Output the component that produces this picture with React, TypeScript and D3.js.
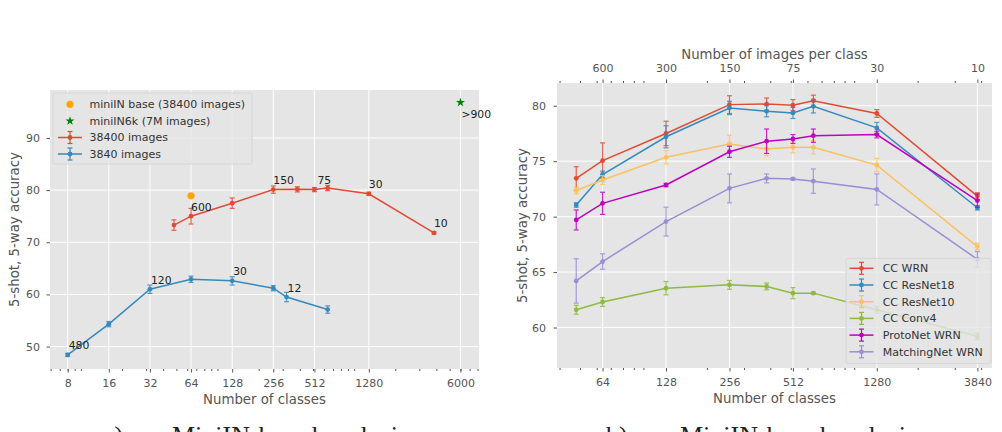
import { useEffect, useRef } from 'react';
import * as d3 from 'd3';

const FONT = "'DejaVu Sans', sans-serif";
const BG = '#E5E5E5';
const TICK = '#555555';

// ---------- panel a: miniIN based, varying number of classes ----------
const classes38400 = [48, 64, 128, 256, 384, 512, 640, 1280, 3840];
const acc38400 = [73.3, 75.0, 77.5, 80.1, 80.15, 80.1, 80.4, 79.3, 71.8];
const err38400 = [1.0, 1.5, 1.0, 0.7, 0.5, 0.4, 0.5, 0.3, 0.2];
const labels38400 = ['', '600', '', '150', '', '75', '', '30', '10'];

const classes3840 = [8, 16, 32, 64, 128, 256, 320, 640];
const acc3840 = [48.4, 54.3, 61.0, 62.9, 62.6, 61.2, 59.5, 57.1];
const err3840 = [0.3, 0.5, 0.8, 0.6, 0.8, 0.5, 0.9, 0.7];
const labels3840 = ['480', '', '120', '', '30', '', '12', ''];

const baseClasses = 64;
const baseAcc = 78.9;
const bigClasses = 6000;
const bigAcc = 96.8;
const bigLabel = '>900';

const leftTicksX = [8, 16, 32, 64, 128, 256, 512, 1280, 6000];
const leftTicksY = [50, 60, 70, 80, 90];

// ---------- panel b: different backbones / methods ----------
const rightClasses = [48, 64, 128, 256, 384, 512, 640, 1280, 3840];
const imagesTotal = 38400;

const ccWrn = [73.45, 75.05, 77.5, 80.1, 80.15, 80.05, 80.45, 79.3, 71.85];
const ccWrnErr = [1.05, 1.6, 1.1, 0.8, 0.55, 0.5, 0.5, 0.35, 0.3];
const ccRes18 = [71.05, 73.8, 77.2, 79.8, 79.5, 79.35, 79.95, 78.0, 70.8];
const ccRes18Err = [0.2, 0.3, 1.0, 0.6, 0.5, 0.5, 0.6, 0.5, 0.2];
const ccRes10 = [72.35, 73.3, 75.35, 76.55, 76.1, 76.25, 76.25, 74.65, 67.3];
const ccRes10Err = [0.3, 0.4, 0.6, 0.8, 0.6, 0.5, 0.6, 0.6, 0.3];
const ccConv4 = [61.6, 62.3, 63.55, 63.85, 63.7, 63.1, 63.1, 61.6, 59.2];
const ccConv4Err = [0.4, 0.4, 0.6, 0.4, 0.3, 0.5, 0.1, 0.3, 0.3];
const protoWrn = [69.7, 71.2, 72.85, 75.85, 76.8, 77.0, 77.3, 77.4, 71.45];
const protoWrnErr = [0.9, 1.0, 0.15, 0.5, 1.1, 0.4, 0.6, 0.3, 0.6];
const matchWrn = [64.2, 65.95, 69.55, 72.55, 73.45, 73.4, 73.2, 72.45, 66.15];
const matchWrnErr = [2.0, 0.7, 1.3, 1.3, 0.4, 0.1, 1.1, 1.4, 0.7];

const rightNames = ['CC WRN', 'CC ResNet18', 'CC ResNet10', 'CC Conv4', 'ProtoNet WRN', 'MatchingNet WRN'];
const rightColors = ['#E24A33', '#348ABD', '#FBC15E', '#8EBA42', '#BF00BF', '#988ED5'];
const rightValues = [ccWrn, ccRes18, ccRes10, ccConv4, protoWrn, matchWrn];
const rightErrors = [ccWrnErr, ccRes18Err, ccRes10Err, ccConv4Err, protoWrnErr, matchWrnErr];

const rightTicksX = [64, 128, 256, 512, 1280, 3840];
const rightTicksY = [60, 65, 70, 75, 80];

// minor ticks like matplotlib's log locator: 1..9 x 10^k
function logMinor(lo: number, hi: number) {
  const out: number[] = [];
  for (let k = 0; k < 5; k++) {
    for (let m = 1; m < 10; m++) {
      const v = m * Math.pow(10, k);
      if (v >= lo && v <= hi) out.push(v);
    }
  }
  return out;
}

function Axis({ axis, transform }: { axis: any; transform: string }) {
  const ref = useRef<SVGGElement>(null);
  useEffect(() => {
    if (!ref.current) return;
    const g = d3.select(ref.current);
    g.call(axis);
    g.attr('font-size', 11).attr('font-family', FONT);
    g.select('.domain').remove();
    g.selectAll('.tick line').attr('stroke', TICK).attr('stroke-width', 1);
    g.selectAll('.tick text').attr('fill', TICK);
  }, [axis]);
  return <g ref={ref} transform={transform} />;
}

function ErrSeries({ xs, ys, errs, x, y, color }: any) {
  const line = d3.line<number>().x((_, i) => x(xs[i])).y((d) => y(d));
  return (
    <g>
      <path d={line(ys) ?? ''} fill="none" stroke={color} strokeWidth={1.5} />
      {ys.map((v: number, i: number) => {
        const cx = x(xs[i]);
        const top = y(v + errs[i]);
        const bot = y(v - errs[i]);
        return (
          <g key={i} stroke={color} strokeWidth={1.2} opacity={0.85}>
            <line x1={cx} x2={cx} y1={top} y2={bot} />
            <line x1={cx - 2.5} x2={cx + 2.5} y1={top} y2={top} />
            <line x1={cx - 2.5} x2={cx + 2.5} y1={bot} y2={bot} />
          </g>
        );
      })}
      {ys.map((v: number, i: number) => (
        <circle key={'m' + i} cx={x(xs[i])} cy={y(v)} r={2.4} fill={color} />
      ))}
    </g>
  );
}

function LegendErr({ x, y, color }: { x: number; y: number; color: string }) {
  return (
    <g stroke={color} strokeWidth={1.5}>
      <line x1={x - 12} x2={x + 12} y1={y} y2={y} />
      <line x1={x} x2={x} y1={y - 6} y2={y + 6} strokeWidth={1.2} />
      <line x1={x - 2.5} x2={x + 2.5} y1={y - 6} y2={y - 6} strokeWidth={1.2} />
      <line x1={x - 2.5} x2={x + 2.5} y1={y + 6} y2={y + 6} strokeWidth={1.2} />
      <circle cx={x} cy={y} r={2.4} fill={color} stroke="none" />
    </g>
  );
}

function LeftPanel() {
  const left = 50, right = 479, top = 90, bottom = 369;
  const x = d3.scaleLog().domain([5.94, 8200]).range([left, right]);
  const y = d3.scaleLinear().domain([45.7, 99.2]).range([bottom, top]);
  const minor = logMinor(5.94, 8200);

  const xMajor = d3.axisBottom(x).tickValues(leftTicksX).tickFormat((d) => String(d)).tickSize(3.5).tickPadding(6.5);
  const xMinor = d3.axisBottom(x).tickValues(minor).tickFormat(() => '').tickSize(2);
  const yAxis = d3.axisLeft(y).tickValues(leftTicksY).tickFormat((d) => String(d)).tickSize(3.5).tickPadding(6.5);
  const star = d3.symbol(d3.symbolStar, 26)();
  const legendY = [104.3, 121, 137.5, 154];

  return (
    <g fontFamily={FONT}>
      <rect x={left} y={top} width={right - left} height={bottom - top} fill={BG} />
      {leftTicksX.map((t) => (
        <line key={'gx' + t} x1={x(t)} x2={x(t)} y1={top} y2={bottom} stroke="#fff" strokeWidth={1} />
      ))}
      {leftTicksY.map((t) => (
        <line key={'gy' + t} x1={left} x2={right} y1={y(t)} y2={y(t)} stroke="#fff" strokeWidth={1} />
      ))}
      <Axis axis={xMinor} transform={`translate(0,${bottom})`} />
      <Axis axis={xMajor} transform={`translate(0,${bottom})`} />
      <Axis axis={yAxis} transform={`translate(${left},0)`} />

      <ErrSeries xs={classes38400} ys={acc38400} errs={err38400} x={x} y={y} color="#E24A33" />
      <ErrSeries xs={classes3840} ys={acc3840} errs={err3840} x={x} y={y} color="#348ABD" />
      <circle cx={x(baseClasses)} cy={y(baseAcc)} r={3.6} fill="#FFA500" />
      <path d={star ?? ''} transform={`translate(${x(bigClasses)},${y(bigAcc)})`} fill="#008000" />
      <text x={x(bigClasses) + 1} y={y(bigAcc) + 15} fontSize={10.8} fill="#222">{bigLabel}</text>

      {labels38400.map((l, i) =>
        l ? (
          <text key={'la' + i} x={x(classes38400[i]) + (l === '75' ? 3 : 0)} y={y(acc38400[i]) - 5.5} fontSize={10.8} fill="#222">{l}</text>
        ) : null
      )}
      {labels3840.map((l, i) =>
        l ? (
          <text key={'lb' + i} x={x(classes3840[i]) + 1} y={y(acc3840[i]) - 5.5} fontSize={10.8} fill="#222">{l}</text>
        ) : null
      )}

      <rect x={53} y={93} width={199} height={71} rx={2} fill={BG} fillOpacity={0.8} stroke="#d6d6d6" />
      <circle cx={70} cy={legendY[0]} r={3.6} fill="#FFA500" />
      <path d={star ?? ''} transform={`translate(70,${legendY[1]})`} fill="#008000" />
      <LegendErr x={70} y={legendY[2]} color="#E24A33" />
      <LegendErr x={70} y={legendY[3]} color="#348ABD" />
      {['miniIN base (38400 images)', 'miniIN6k (7M images)', '38400 images', '3840 images'].map((t, i) => (
        <text key={t} x={89.5} y={legendY[i]} dy="0.35em" fontSize={11} fill="#333">{t}</text>
      ))}

      <text x={(left + right) / 2} y={403.5} textAnchor="middle" fontSize={13.3} fill={TICK}>Number of classes</text>
      <text transform={`translate(18.5,${(top + bottom) / 2}) rotate(-90)`} textAnchor="middle" fontSize={13.3} fill={TICK}>5-shot, 5-way accuracy</text>
    </g>
  );
}

function RightPanel() {
  const left = 557, right = 992, top = 83, bottom = 368;
  const x = d3.scaleLog().domain([38.9, 4505]).range([left, right]);
  const y = d3.scaleLinear().domain([56.35, 82.05]).range([bottom, top]);
  const minor = logMinor(38.9, 4505);

  const xMajor = d3.axisBottom(x).tickValues(rightTicksX).tickFormat((d) => String(d)).tickSize(3.5).tickPadding(6.5);
  const xMinor = d3.axisBottom(x).tickValues(minor).tickFormat(() => '').tickSize(2);
  const topMajor = d3.axisTop(x).tickValues(rightTicksX).tickFormat((d) => String(imagesTotal / (d as number))).tickSize(3.5).tickPadding(7.5);
  const topMinor = d3.axisTop(x).tickValues(minor).tickFormat(() => '').tickSize(2);
  const yAxis = d3.axisLeft(y).tickValues(rightTicksY).tickFormat((d) => String(d)).tickSize(3.5).tickPadding(7.5);
  const legTop = 258.3;

  return (
    <g fontFamily={FONT}>
      <rect x={left} y={top} width={right - left} height={bottom - top} fill={BG} />
      {rightTicksX.map((t) => (
        <line key={'gx' + t} x1={x(t)} x2={x(t)} y1={top} y2={bottom} stroke="#fff" strokeWidth={1} />
      ))}
      {rightTicksY.map((t) => (
        <line key={'gy' + t} x1={left} x2={right} y1={y(t)} y2={y(t)} stroke="#fff" strokeWidth={1} />
      ))}
      <Axis axis={xMinor} transform={`translate(0,${bottom})`} />
      <Axis axis={xMajor} transform={`translate(0,${bottom})`} />
      <Axis axis={topMinor} transform={`translate(0,${top})`} />
      <Axis axis={topMajor} transform={`translate(0,${top})`} />
      <Axis axis={yAxis} transform={`translate(${left},0)`} />

      {rightValues.map((vals, k) => (
        <ErrSeries key={rightNames[k]} xs={rightClasses} ys={vals} errs={rightErrors[k]} x={x} y={y} color={rightColors[k]} />
      ))}

      <rect x={846} y={legTop} width={145} height={105} rx={2} fill={BG} fillOpacity={0.8} stroke="#d6d6d6" />
      {rightNames.map((n, k) => {
        const ly = legTop + 10 + k * 16.7;
        return (
          <g key={n}>
            <LegendErr x={861.5} y={ly} color={rightColors[k]} />
            <text x={882.7} y={ly} dy="0.35em" fontSize={11} fill="#333">{n}</text>
          </g>
        );
      })}

      <text x={(left + right) / 2} y={403} textAnchor="middle" fontSize={13.3} fill={TICK}>Number of classes</text>
      <text x={(left + right) / 2} y={58.5} textAnchor="middle" fontSize={13.3} fill={TICK}>Number of images per class</text>
      <text transform={`translate(527,${(top + bottom) / 2}) rotate(-90)`} textAnchor="middle" fontSize={13.3} fill={TICK}>5-shot, 5-way accuracy</text>
    </g>
  );
}

export default function App() {
  return (
    <svg width={1002} height={432} style={{ position: 'absolute', left: 0, top: 0, background: '#fff' }}>
      <LeftPanel />
      <RightPanel />
      <g fontFamily="'Liberation Serif', serif" fontSize={26} fill="#222">
        <text x={103} y={444}>a)</text>
        <text x={172} y={444}>MiniIN-based analysis</text>
        <text x={606} y={444}>b)</text>
        <text x={680} y={444}>MiniIN-based analysis</text>
      </g>
    </svg>
  );
}
